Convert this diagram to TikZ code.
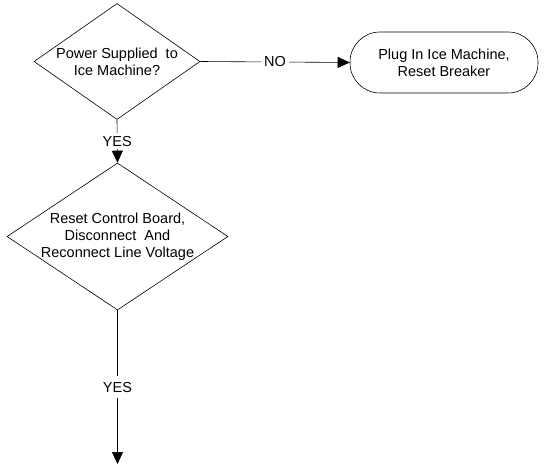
\documentclass[tikz,border=0pt]{standalone}
\usepackage{fontspec}
\setmainfont{Liberation Sans}
\usetikzlibrary{shapes.geometric, arrows.meta}

\tikzset{
    decision/.style={diamond, draw, line width=0.6pt, align=center},
    stopbox/.style={rectangle, rounded corners=30pt, draw, line width=0.6pt, align=center,
        minimum width=188pt, minimum height=61pt},
    flow/.style={line width=0.6pt, -{Triangle[length=12pt, width=11pt]}},
    answer/.style={fill=white, inner sep=3pt}
}

\begin{document}
\begin{tikzpicture}[x=1pt, y=1pt, font=\fontsize{14.5}{17}\selectfont]
    \useasboundingbox (0, 0) rectangle (546, -465);

    \node[decision, aspect=1.43, inner sep=0pt, minimum width=166pt, minimum height=116pt]
        (power) at (117, -61.5) {Power Supplied\ \ to\\Ice Machine?};
    \node[stopbox] (plug) at (444, -62.5) {Plug In Ice Machine,\\Reset Breaker};
    \node[decision, aspect=1.5, inner sep=-1.8pt, minimum width=221pt, minimum height=147pt]
        (reset) at (117.5, -236.5) {Reset Control Board,\\Disconnect\ \ And\\Reconnect Line Voltage};
    \coordinate (next) at (117.5, -464);

    \draw[flow] (power.east) -- node[answer]{NO} (plug.west);
    \draw[flow] (power.south) -- node[answer]{YES} (reset.north);
    \draw[flow] (reset.south) -- node[answer, inner sep=6pt]{YES} (next);
\end{tikzpicture}
\end{document}
